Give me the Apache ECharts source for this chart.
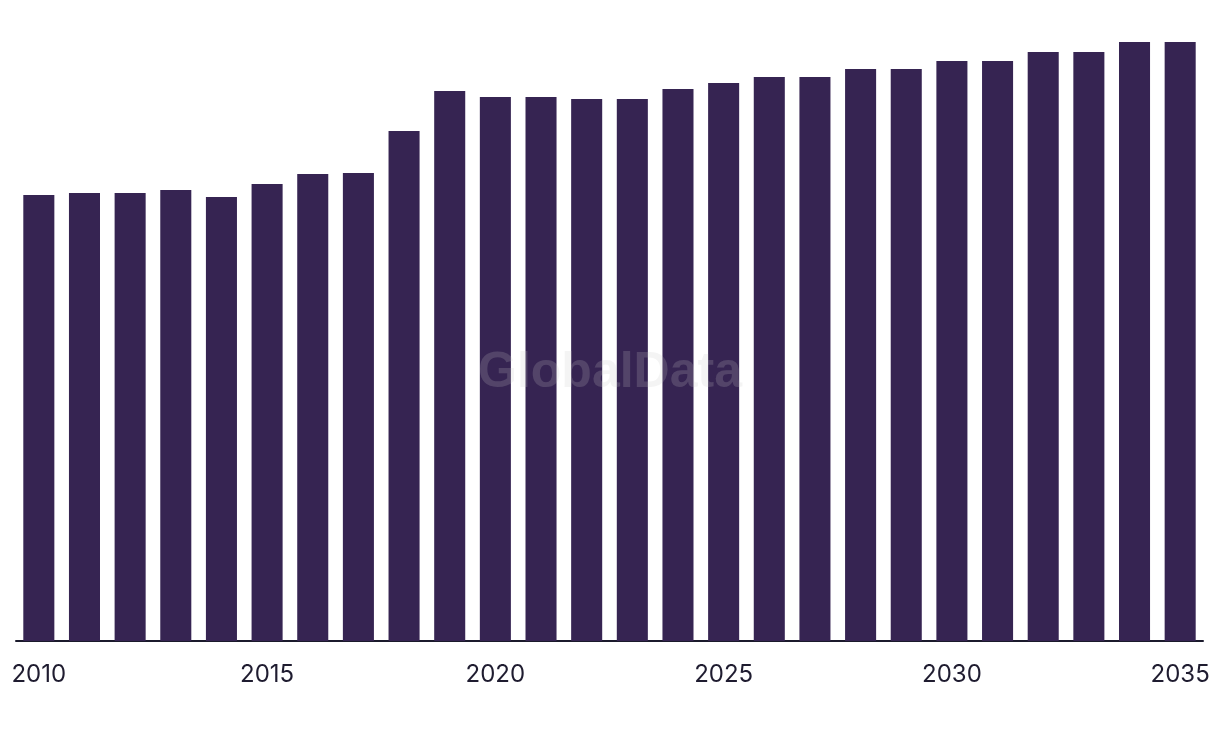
<!DOCTYPE html>
<html>
<head>
<meta charset="utf-8">
<script src="https://cdn.jsdelivr.net/npm/echarts@6/dist/echarts.min.js"></script>
<style>
html,body{margin:0;padding:0;background:#fff;}
#chart{width:1220px;height:738px;}
</style>
</head>
<body>
<div id="chart"></div>
<script>
const years = ['2010','2011','2012','2013','2014','2015','2016','2017','2018','2019','2020','2021','2022','2023','2024','2025','2026','2027','2028','2029','2030','2031','2032','2033','2034','2035'];
const values = [446,448,448,451,444,457,467,468,510,550,544,544,542,542,552,558,564,564,572,572,580,580,589,589,599,599];
const watermark = 'GlobalData';

const chart = echarts.init(document.getElementById('chart'));
chart.setOption({
  animation: false,
  backgroundColor: '#ffffff',
  grid: {left: 16, right: 17, top: 41, bottom: 97, containLabel: false},
  xAxis: {
    type: 'category',
    data: years,
    axisLine: {show: true, lineStyle: {color: '#1b1a2c', width: 2}},
    axisTick: {show: false},
    axisLabel: {
      interval: 4,
      color: '#1f1c30',
      fontFamily: 'Inter, "Liberation Sans", sans-serif',
      fontSize: 24,
      margin: 22
    }
  },
  yAxis: {
    type: 'value',
    min: 0,
    max: 600,
    show: false,
    splitLine: {show: false}
  },
  series: [{
    type: 'bar',
    data: values,
    barCategoryGap: '32%',
    itemStyle: {color: '#362452'},
    z: 2
  }],
  graphic: [{
    type: 'text',
    left: 'center',
    top: 348,
    z: 100,
    style: {
      text: watermark,
      font: 'bold 50px "Liberation Sans", Arial, sans-serif',
      fill: 'rgba(200,200,200,0.2)'
    }
  }]
});
</script>
</body>
</html>
